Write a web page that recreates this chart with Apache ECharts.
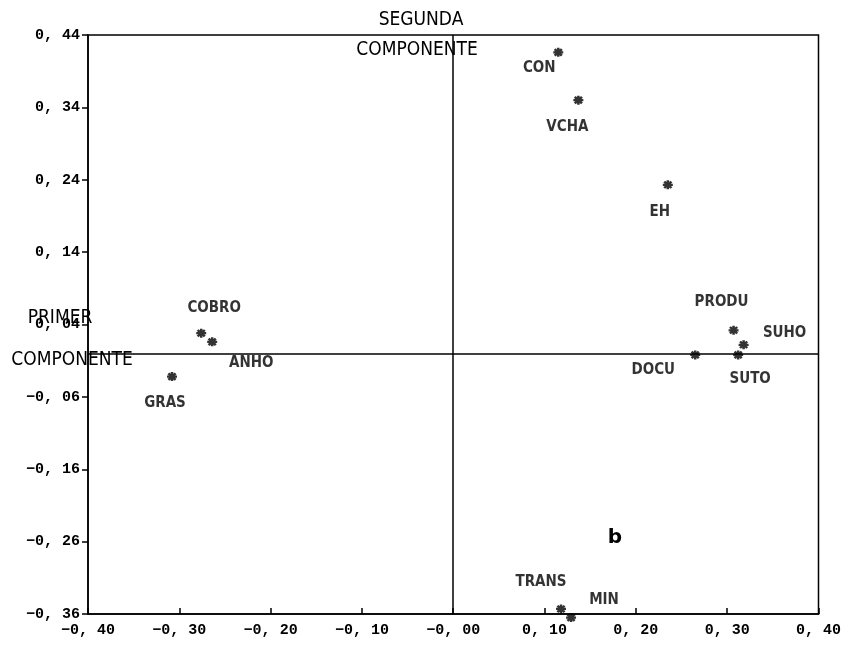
<!DOCTYPE html>
<html>
<head>
<meta charset="utf-8">
<script src="https://cdn.jsdelivr.net/npm/echarts@6/dist/echarts.min.js"></script>
<style>html,body{margin:0;padding:0;background:#fff;}#c{width:844px;height:649px;}</style>
</head>
<body>
<div id="c"></div>
<script>
// ---- data ----
const names   = ['CON','VCHA','EH','PRODU','SUHO','SUTO','DOCU','COBRO','ANHO','GRAS','TRANS','MIN'];
const xValues = [0.115, 0.137, 0.235, 0.307, 0.318, 0.312, 0.265, -0.276, -0.264, -0.308, 0.118, 0.129];
const yValues = [0.416, 0.350, 0.233, 0.032, 0.012, -0.002, -0.002, 0.028, 0.016, -0.032, -0.353, -0.365];
const xTicks = [-0.40, -0.30, -0.20, -0.10, 0.00, 0.10, 0.20, 0.30, 0.40];
const xTickLabels = ['\u22120, 40','\u22120, 30','\u22120, 20','\u22120, 10','\u22120, 00','0, 10','0, 20','0, 30','0, 40'];
const yTicks = [-0.36, -0.26, -0.16, -0.06, 0.04, 0.14, 0.24, 0.34, 0.44];
const yTickLabels = ['\u22120, 36','\u22120, 26','\u22120, 16','\u22120, 06','0, 04','0, 14','0, 24','0, 34','0, 44'];

// ---- label placement (style) ----
const labelOffsets = {
  CON:[-19,16], VCHA:[-11,27], EH:[-8,27], PRODU:[-12,-28], SUHO:[41,-12], SUTO:[12,24],
  DOCU:[-42,15], COBRO:[13,-25], ANHO:[39,21], GRAS:[-7,26], TRANS:[-20,-27], MIN:[33,-18]
};

function lookup(ticks, labels, v) {
  let best = 0, d = Infinity;
  ticks.forEach((t, i) => { const dd = Math.abs(t - v); if (dd < d) { d = dd; best = i; } });
  return labels[best];
}

const chart = echarts.init(document.getElementById('c'), null, {renderer: 'canvas'});
const tickFont = {fontFamily: '"Liberation Mono", "DejaVu Sans Mono", monospace', fontWeight: 'bold', fontSize: 15, color: '#000'};
const nameFont = '19px "DejaVu Sans Condensed", "Liberation Sans Narrow", sans-serif';
const asterisk = 'path://M0,-5L0,5M-5,0L5,0M-3.6,-3.6L3.6,3.6M-3.6,3.6L3.6,-3.6';

const points = names.map((n, i) => ({
  value: [xValues[i], yValues[i]],
  name: n,
  label: {offset: labelOffsets[n]}
}));

chart.setOption({
  animation: false,
  backgroundColor: '#fff',
  grid: {left: 88, right: 22, top: 35, bottom: 35, show: true, borderColor: '#000', borderWidth: 1.5, backgroundColor: 'transparent'},
  xAxis: {
    type: 'value', min: -0.4, max: 0.4,
    splitLine: {show: false},
    axisLine: {show: true, onZero: false, lineStyle: {color: '#000', width: 1.5}},
    axisTick: {show: true, inside: true, length: 6, customValues: xTicks, lineStyle: {color: '#000', width: 1.5}},
    axisLabel: Object.assign({customValues: xTicks, margin: 9, formatter: v => lookup(xTicks, xTickLabels, v)}, tickFont)
  },
  yAxis: {
    type: 'value', min: -0.36, max: 0.44,
    splitLine: {show: false},
    axisLine: {show: true, onZero: false, lineStyle: {color: '#000', width: 1.5}},
    axisTick: {show: true, inside: false, length: 6, customValues: yTicks, lineStyle: {color: '#000', width: 1.5}},
    axisLabel: Object.assign({customValues: yTicks, margin: 8, formatter: v => lookup(yTicks, yTickLabels, v)}, tickFont)
  },
  series: [{
    type: 'scatter',
    clip: false,
    symbol: asterisk,
    symbolSize: [10, 9],
    itemStyle: {color: '#000', borderColor: '#000', borderWidth: 2.4},
    label: {
      show: true, position: 'inside', formatter: p => p.name,
      align: 'center', verticalAlign: 'middle',
      fontFamily: '"DejaVu Sans Condensed", "Liberation Sans Narrow", sans-serif',
      fontWeight: 'bold', fontSize: 15, color: '#000'
    },
    data: points,
    markLine: {
      silent: true, symbol: ['none', 'none'], animation: false,
      label: {show: false},
      lineStyle: {color: '#000', type: 'solid', width: 1.5},
      data: [{xAxis: 0}, {yAxis: 0}]
    }
  }],
  graphic: [
    {type: 'text', x: 421, y: 20, style: {text: 'SEGUNDA', align: 'center', verticalAlign: 'middle', font: nameFont, fill: '#000'}},
    {type: 'text', x: 417, y: 50, style: {text: 'COMPONENTE', align: 'center', verticalAlign: 'middle', font: nameFont, fill: '#000'}},
    {type: 'text', x: 60, y: 318, style: {text: 'PRIMER', align: 'center', verticalAlign: 'middle', font: nameFont, fill: '#000'}},
    {type: 'text', x: 72, y: 360, style: {text: 'COMPONENTE', align: 'center', verticalAlign: 'middle', font: nameFont, fill: '#000'}},
    {type: 'text', x: 615, y: 538, style: {text: 'b', align: 'center', verticalAlign: 'middle', font: 'bold 20px "DejaVu Sans", sans-serif', fill: '#000'}}
  ]
});
</script>
</body>
</html>
